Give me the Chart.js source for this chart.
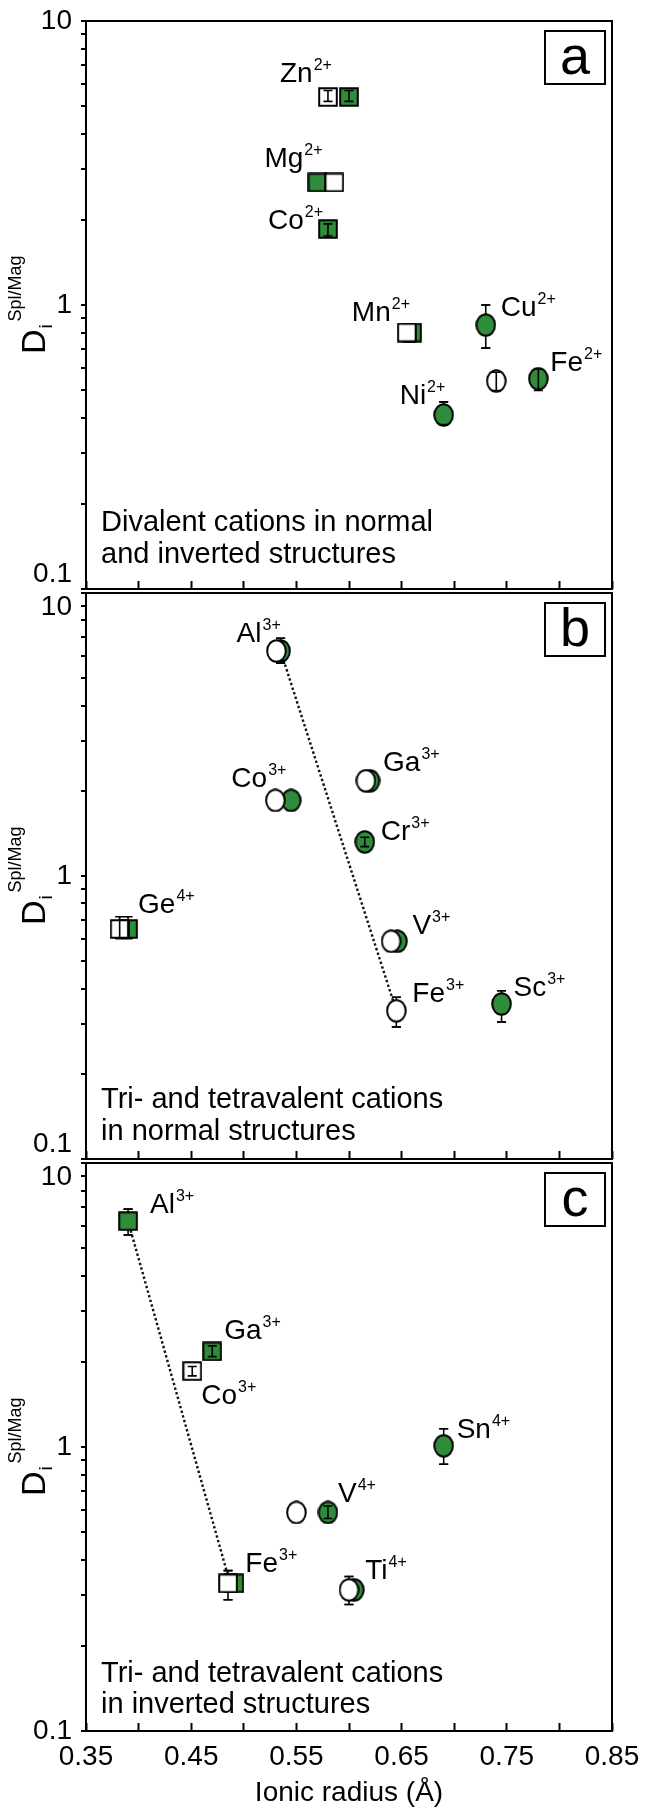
<!DOCTYPE html>
<html>
<head>
<meta charset="utf-8">
<script src="https://cdn.jsdelivr.net/npm/chart.js@4.4.1/dist/chart.umd.min.js"></script>
<style>
  html, body { margin: 0; padding: 0; background: #fff; }
  #wrap { position: relative; width: 646px; height: 1811px; overflow: hidden; background: #fff; }
  #wrap canvas { position: absolute; left: 0; }
</style>
</head>
<body>
<div id="wrap">
  <canvas id="panelA" width="646" height="600" style="top:0px"></canvas>
  <canvas id="panelB" width="646" height="588" style="top:582px"></canvas>
  <canvas id="panelC" width="646" height="659" style="top:1152px"></canvas>
</div>
<script>
// ---------------- data ----------------
// axis ticks
const radiusTickLabels = [0.35, 0.45, 0.55, 0.65, 0.75, 0.85];
const partitionTickLabels = [0.1, 1, 10];

// (a) divalent cations in normal and inverted structures
const aWhiteSquareR   = [0.580, 0.586, 0.655];
const aWhiteSquareD   = [5.40, 2.70, 0.80];
const aWhiteSquareErr = [[5.21, 5.69], null, null];
const aGreenSquareR   = [0.600, 0.570, 0.580, 0.660];
const aGreenSquareD   = [5.40, 2.70, 1.85, 0.80];
const aGreenSquareErr = [[5.21, 5.69], null, [1.75, 1.93], null];
const aWhiteCircleR   = [0.740];
const aWhiteCircleD   = [0.54];
const aWhiteCircleErr = [[0.50, 0.58]];
const aGreenCircleR   = [0.730, 0.780, 0.690];
const aGreenCircleD   = [0.85, 0.55, 0.41];
const aGreenCircleErr = [[0.705, 1.00], [0.50, 0.595], [0.379, 0.456]];
const aIons    = ['Zn', 'Mg', 'Co', 'Mn', 'Cu', 'Fe', 'Ni'];
const aCharges = ['2+', '2+', '2+', '2+', '2+', '2+', '2+'];
const aIonR    = [0.580, 0.570, 0.580, 0.655, 0.730, 0.780, 0.690];
const aIonD    = [5.40, 2.70, 1.85, 0.80, 0.85, 0.55, 0.41];
const aNote    = ['Divalent cations in normal', 'and inverted structures'];

// (b) tri- and tetravalent cations in normal structures
const bWhiteCircleR   = [0.531, 0.530, 0.616, 0.640, 0.645];
const bWhiteCircleD   = [6.24, 1.85, 2.17, 0.588, 0.334];
const bWhiteCircleErr = [null, null, null, null, [0.293, 0.373]];
const bGreenCircleR   = [0.535, 0.545, 0.620, 0.615, 0.646, 0.745];
const bGreenCircleD   = [6.24, 1.85, 2.17, 1.32, 0.588, 0.353];
const bGreenCircleErr = [[5.65, 6.92], null, null, [1.27, 1.37], null, [0.305, 0.393]];
const bWhiteSquareR   = [0.382];
const bWhiteSquareD   = [0.65];
const bWhiteSquareErr = [[0.601, 0.718]];
const bGreenSquareR   = [0.390];
const bGreenSquareD   = [0.65];
const bGreenSquareErr = [[0.601, 0.718]];
const bTrendR = [0.535, 0.645];
const bTrendD = [6.24, 0.334];
const bIons    = ['Al', 'Co', 'Ga', 'Cr', 'Ge', 'V', 'Fe', 'Sc'];
const bCharges = ['3+', '3+', '3+', '3+', '4+', '3+', '3+', '3+'];
const bIonR    = [0.535, 0.530, 0.620, 0.615, 0.390, 0.646, 0.645, 0.745];
const bIonD    = [6.24, 1.85, 2.17, 1.32, 0.65, 0.588, 0.334, 0.353];
const bNote    = ['Tri- and tetravalent cations', 'in normal structures'];

// (c) tri- and tetravalent cations in inverted structures
const cGreenSquareR   = [0.390, 0.470, 0.491];
const cGreenSquareD   = [6.24, 2.17, 0.331];
const cGreenSquareErr = [[5.58, 6.88], [2.08, 2.27], null];
const cWhiteSquareR   = [0.451, 0.485];
const cWhiteSquareD   = [1.85, 0.331];
const cWhiteSquareErr = [[1.78, 1.92], [0.29, 0.367]];
const cGreenCircleR   = [0.690, 0.580, 0.605];
const cGreenCircleD   = [1.01, 0.588, 0.314];
const cGreenCircleErr = [[0.87, 1.16], [0.56, 0.62], null];
const cWhiteCircleR   = [0.550, 0.600];
const cWhiteCircleD   = [0.588, 0.314];
const cWhiteCircleErr = [null, [0.279, 0.35]];
const cTrendR = [0.390, 0.487];
const cTrendD = [6.24, 0.331];
const cIons    = ['Al', 'Ga', 'Co', 'Fe', 'Sn', 'V', 'Ti'];
const cCharges = ['3+', '3+', '3+', '3+', '4+', '4+', '4+'];
const cIonR    = [0.390, 0.470, 0.451, 0.491, 0.690, 0.580, 0.605];
const cIonD    = [6.24, 2.17, 1.85, 0.331, 1.01, 0.588, 0.314];
const cNote    = ['Tri- and tetravalent cations', 'in inverted structures'];

// ---------------- layout / style ----------------
// label anchor offsets (px) from the ion's marker: [dx to text start, dy to baseline]
const aLabelOffsets = [[-48, -15], [-53, -15], [-60, 0], [-55, -12], [15, -9], [12, -8], [-44, -11]];
const bLabelOffsets = [[-44, -9], [-44, -13], [13, -10], [16, -2], [10, -16], [15, -7], [16, -9], [12, -8]];
const cLabelOffsets = [[22, -8], [12, -12], [9, 33], [11, -11], [13, -8], [10, -10], [11, -11]];

const FONT = '"Liberation Sans", Arial, Helvetica, sans-serif';
const GREEN = '#2e8c3b';
const INK = '#000';
const MARKER_HALF_H = 11;

function makeMarker(shape, fill) {
  const circle = shape === 'circle';
  const w = circle ? 21 : 20, h = circle ? 24 : 20;
  const c = document.createElement('canvas');
  c.width = w; c.height = h;
  const g = c.getContext('2d');
  g.lineWidth = 2; g.strokeStyle = INK; g.fillStyle = fill;
  g.beginPath();
  if (circle) g.ellipse(w / 2, h / 2, w / 2 - 1.2, h / 2 - 1.2, 0, 0, Math.PI * 2);
  else g.rect(1.2, 1.2, w - 2.4, h - 2.4);
  g.fill(); g.stroke();
  return c;
}
const whiteCircle = makeMarker('circle', '#fff');
const greenCircle = makeMarker('circle', GREEN);
const whiteSquare = makeMarker('square', '#fff');
const greenSquare = makeMarker('square', GREEN);

function points(r, d) { return r.map((x, i) => ({ x, y: d[i] })); }
function markers(r, d, style, err, order) {
  return { data: points(r, d), pointStyle: style, pointRadius: 10, showLine: false, errorBars: err, order };
}
function trend(r, d) {
  return { data: points(r, d), showLine: true, pointRadius: 0, borderColor: '#111',
           borderWidth: 2.4, borderDash: [2.4, 2.4], order: 9 };
}
const near = (a, b) => Math.abs(a - b) < 1e-6 * Math.max(1, b);

// error bars: long ones sit under the markers (caps repeated on top), short ones are drawn over them
function drawErrorBars(chart, onTop) {
  const ctx = chart.ctx, ys = chart.scales.y, xs = chart.scales.x;
  ctx.save();
  ctx.strokeStyle = INK; ctx.lineWidth = 1.6;
  chart.data.datasets.forEach(ds => {
    if (!ds.errorBars) return;
    ds.data.forEach((p, i) => {
      const e = ds.errorBars[i];
      if (!e) return;
      const x = xs.getPixelForValue(p.x);
      const y1 = ys.getPixelForValue(e[0]), y2 = ys.getPixelForValue(e[1]);
      const short = Math.abs(y1 - y2) / 2 < MARKER_HALF_H;
      ctx.beginPath();
      if (short === onTop) { ctx.moveTo(x, y1); ctx.lineTo(x, y2); }
      if (short === onTop || (onTop && !short)) {
        ctx.moveTo(x - 4.5, y1); ctx.lineTo(x + 4.5, y1);
        ctx.moveTo(x - 4.5, y2); ctx.lineTo(x + 4.5, y2);
      }
      ctx.stroke();
    });
  });
  ctx.restore();
}

// frame, left-axis ticks, panel letter, note, ion labels, y title
const panelDecor = {
  id: 'panelDecor',
  beforeDatasetsDraw(chart) { drawErrorBars(chart, false); },
  afterDatasetsDraw(chart) { drawErrorBars(chart, true); },
  afterDraw(chart, args, o) {
    const ctx = chart.ctx, a = chart.chartArea, xs = chart.scales.x, ys = chart.scales.y;
    ctx.save();
    // frame
    ctx.strokeStyle = INK; ctx.lineWidth = 2;
    ctx.strokeRect(a.left, a.top, a.right - a.left, a.bottom - a.top);
    // outward marks for every tick of the log axis
    ctx.beginPath();
    ys.ticks.forEach(t => {
      const y = Math.round(ys.getPixelForValue(t.value));
      ctx.moveTo(a.left - 5, y); ctx.lineTo(a.left, y);
    });
    ctx.stroke();
    // panel letter
    ctx.strokeRect(545, a.top + 10, 60, 53);
    ctx.fillStyle = INK;
    ctx.font = '54px ' + FONT;
    ctx.textAlign = 'center'; ctx.textBaseline = 'alphabetic';
    ctx.fillText(o.letter, 575, a.top + 53);
    // note
    ctx.textAlign = 'left';
    ctx.font = '29px ' + FONT;
    o.note.forEach((t, i) => ctx.fillText(t, 101, a.bottom + o.noteBase[i]));
    // ion labels
    o.ions.forEach((ion, i) => {
      const x = xs.getPixelForValue(o.ionR[i]) + o.offsets[i][0];
      const y = ys.getPixelForValue(o.ionD[i]) + o.offsets[i][1];
      ctx.font = '28px ' + FONT;
      ctx.fillText(ion, x, y);
      const w = ctx.measureText(ion).width;
      ctx.font = '16px ' + FONT;
      ctx.fillText(o.charges[i], x + w + 1, y - 12);
    });
    // y-axis title: D_i^{Spl/Mag}
    const cy = (a.top + a.bottom) / 2;
    ctx.translate(45, cy + 49);
    ctx.rotate(-Math.PI / 2);
    ctx.font = '34px ' + FONT;
    ctx.fillText('D', 0, 0);
    const wd = ctx.measureText('D').width;
    ctx.font = '19px ' + FONT;
    ctx.fillText('i', wd + 1, 7);
    ctx.font = '18px ' + FONT;
    ctx.fillText('Spl/Mag', wd + 8, -24);
    ctx.restore();
  }
};

function yTicks(shiftTop, shiftBottom) {
  return v => {
    if (near(v, 10)) return shiftTop ? ['', '10'] : '10';
    if (near(v, 1)) return '1';
    if (near(v, 0.1)) return shiftBottom ? ['0.1', ''] : '0.1';
    return '';
  };
}

function makePanel(id, cfg) {
  const showX = cfg.showX;
  return new Chart(document.getElementById(id), {
    type: 'scatter',
    data: { datasets: cfg.datasets },
    options: {
      responsive: false,
      animation: false,
      events: [],
      layout: { padding: { top: cfg.padTop, right: 34, left: 0, bottom: 0 } },
      plugins: {
        legend: { display: false },
        tooltip: { enabled: false },
        panelDecor: {
          letter: cfg.letter, note: cfg.note, noteBase: cfg.noteBase,
          ions: cfg.ions, charges: cfg.charges, ionR: cfg.ionR, ionD: cfg.ionD, offsets: cfg.offsets
        }
      },
      scales: {
        x: {
          type: 'linear', min: 0.35, max: 0.85,
          afterFit: s => { s.height = cfg.xHeight; s.paddingLeft = 0; s.paddingRight = 0; },
          afterBuildTicks: s => {
            const t = [];
            for (let k = 0; k <= 10; k++) t.push({ value: +(0.35 + k * 0.05).toFixed(2) });
            s.ticks = t;
          },
          grid: { drawOnChartArea: false, drawTicks: true, tickLength: -8, tickWidth: 2, tickColor: INK },
          border: { display: false },
          ticks: {
            display: showX, color: INK, padding: 17, maxRotation: 0, autoSkip: false,
            font: { family: FONT, size: 28 },
            callback: v => {
              const hit = radiusTickLabels.find(t => near(t, v));
              return hit !== undefined ? hit.toFixed(2) : '';
            }
          },
          title: {
            display: showX, text: 'Ionic radius (Å)', color: INK,
            font: { family: FONT, size: 28 }, padding: { top: 1, bottom: 1 }
          }
        },
        y: {
          type: 'logarithmic', min: 0.1, max: 10,
          afterFit: s => { s.width = 86; s.paddingTop = 0; s.paddingBottom = 0; },
          afterBuildTicks: s => {
            // decade ticks plus the minor 2..9 steps of each decade
            const t = [];
            for (let e = -1; e <= 0; e++) {
              for (let m = 1; m <= 9; m++) t.push({ value: +(m * Math.pow(10, e)).toPrecision(3) });
            }
            t.push({ value: 10 });
            s.ticks = t;
          },
          grid: { drawOnChartArea: false, drawTicks: false },
          border: { display: false },
          ticks: {
            color: INK, padding: 14, autoSkip: false,
            font: { family: FONT, size: 28, lineHeight: 1.05 },
            callback: yTicks(cfg.shiftTop, cfg.shiftBottom)
          }
        }
      }
    },
    plugins: [panelDecor]
  });
}

makePanel('panelA', {
  padTop: 21, xHeight: 9, showX: false, shiftTop: false, shiftBottom: true, letter: 'a',
  note: aNote, noteBase: [-58, -26],
  ions: aIons, charges: aCharges, ionR: aIonR, ionD: aIonD, offsets: aLabelOffsets,
  datasets: [
    markers(aWhiteSquareR, aWhiteSquareD, whiteSquare, aWhiteSquareErr, 1),
    markers(aWhiteCircleR, aWhiteCircleD, whiteCircle, aWhiteCircleErr, 2),
    markers(aGreenSquareR, aGreenSquareD, greenSquare, aGreenSquareErr, 3),
    markers(aGreenCircleR, aGreenCircleD, greenCircle, aGreenCircleErr, 4)
  ]
});

makePanel('panelB', {
  padTop: 9, xHeight: 9, showX: false, shiftTop: true, shiftBottom: true, letter: 'b',
  note: bNote, noteBase: [-51, -19],
  ions: bIons, charges: bCharges, ionR: bIonR, ionD: bIonD, offsets: bLabelOffsets,
  datasets: [
    markers(bWhiteCircleR, bWhiteCircleD, whiteCircle, bWhiteCircleErr, 1),
    markers(bWhiteSquareR, bWhiteSquareD, whiteSquare, bWhiteSquareErr, 2),
    markers(bGreenCircleR, bGreenCircleD, greenCircle, bGreenCircleErr, 3),
    markers(bGreenSquareR, bGreenSquareD, greenSquare, bGreenSquareErr, 4),
    trend(bTrendR, bTrendD)
  ]
});

makePanel('panelC', {
  padTop: 9, xHeight: 80, showX: true, shiftTop: true, shiftBottom: false, letter: 'c',
  note: cNote, noteBase: [-49, -18],
  ions: cIons, charges: cCharges, ionR: cIonR, ionD: cIonD, offsets: cLabelOffsets,
  datasets: [
    markers(cWhiteSquareR, cWhiteSquareD, whiteSquare, cWhiteSquareErr, 1),
    markers(cWhiteCircleR, cWhiteCircleD, whiteCircle, cWhiteCircleErr, 2),
    markers(cGreenSquareR, cGreenSquareD, greenSquare, cGreenSquareErr, 3),
    markers(cGreenCircleR, cGreenCircleD, greenCircle, cGreenCircleErr, 4),
    trend(cTrendR, cTrendD)
  ]
});
</script>
</body>
</html>
